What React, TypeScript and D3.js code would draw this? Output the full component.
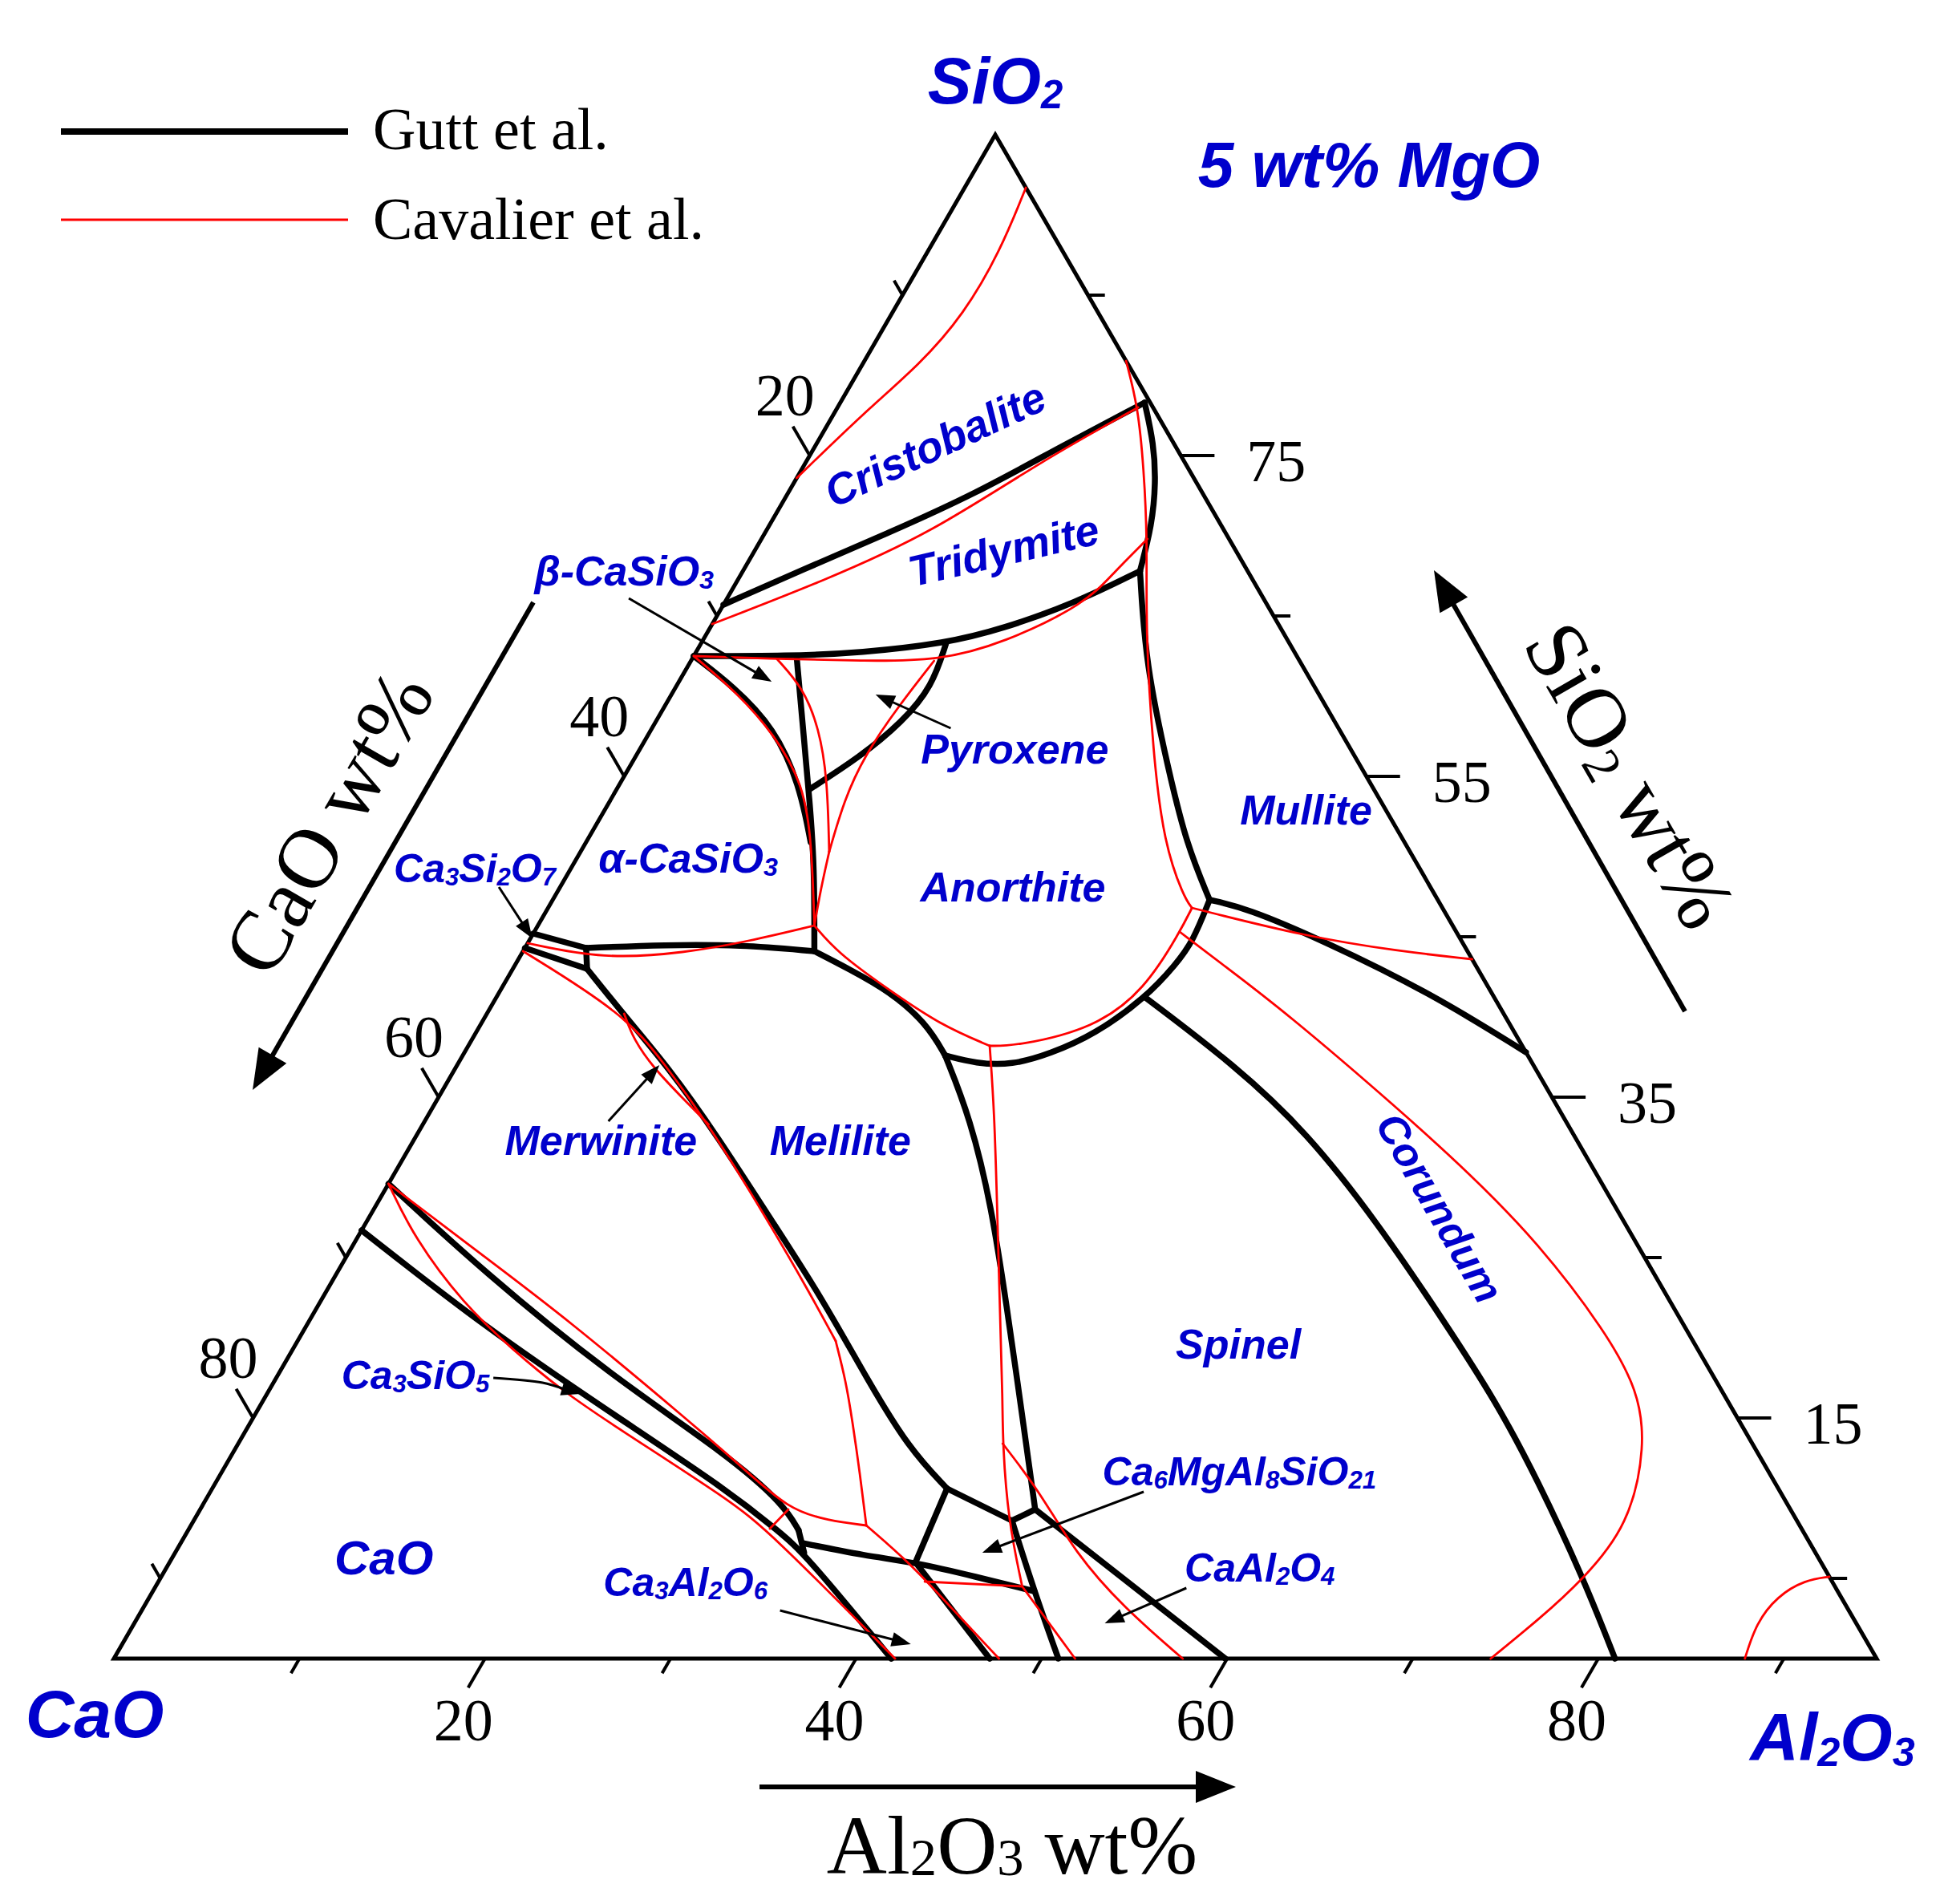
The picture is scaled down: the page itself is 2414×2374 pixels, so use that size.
import React from 'react';
import * as d3 from 'd3';

// Compositions are [Al2O3, SiO2] in wt%; CaO = 95 - Al2O3 - SiO2 (isoplethal section at 5 wt% MgO)
type Comp = [number, number];
type Part = [string, boolean?];

const TOTAL = 95;

// ---- Gutt et al. (black) ----
const gCristobaliteTridymite: Comp[] = [[0, 65.7], [3.2, 67.9], [6.7, 70.2], [10.1, 72.6], [13.3, 75.6], [16.4, 78.3]];
const gTridymiteMullite: Comp[] = [[16.4, 78.3], [18.2, 75.7], [19.5, 73.3], [20.6, 70.7], [21.4, 67.8]];
const gSilicaLower: Comp[] = [[21.4, 67.8], [18.9, 65.8], [15.8, 64.2], [13.2, 63.3], [8.9, 62.7], [5.1, 62.5], [0, 62.5]];
const gAnorthiteMullite: Comp[] = [[21.4, 67.8], [24.6, 62.0], [29.2, 55.3], [32.4, 50.8], [35.4, 47.3]];
const gMulliteCorundum: Comp[] = [[35.4, 47.3], [37.6, 46.8], [42.7, 44.8], [50.2, 41.5], [57.2, 37.8]];
const gAnorthiteSpinel: Comp[] = [[35.4, 47.3], [35.8, 44.7], [35.6, 43.3], [35.0, 41.2], [33.4, 38.9], [31.6, 37.7], [29.9, 37.0], [27.9, 37.1], [26.0, 37.6]];
const gMeliliteAnorthite: Comp[] = [[15.7, 44.1], [18.1, 43.0], [21.0, 41.6], [24.0, 39.6], [26.0, 37.6]];
const gMeliliteSpinel: Comp[] = [[26.0, 37.6], [29.3, 33.7], [33.2, 28.2], [37.3, 21.7], [41.1, 15.6], [45.0, 9.3]];
const gSpinelCorundum: Comp[] = [[35.0, 41.2], [41.9, 37.0], [47.9, 32.8], [54.6, 27.1], [61.2, 21.0], [66.5, 16.0], [71.1, 11.2], [76.7, 5.0], [80.9, 0]];
const gWollastonite: Comp[] = [[5.6, 62.4], [8.6, 57.2], [10.8, 53.4], [13.0, 49.5], [15.7, 44.1]];
const gPyroxene: Comp[] = [[13.2, 63.3], [13.8, 60.6], [13.3, 58.4], [12.1, 56.2], [10.4, 54.2]];
const gBetaAlpha: Comp[] = [[0, 62.5], [3.1, 60.6], [6.6, 58.0], [9.7, 54.5], [12.1, 50.9]];
const gAlphaMelilite: Comp[] = [[3.3, 44.3], [7.5, 44.5], [11.5, 44.5], [15.7, 44.1]];
const gRankiniteTop: Comp[] = [[0, 45.2], [3.3, 44.3]];
const gRankiniteSide: Comp[] = [[3.3, 44.3], [4.0, 43.0]];
const gRankiniteBottom: Comp[] = [[4.0, 43.0], [0, 44.3]];
const gMerwiniteMelilite: Comp[] = [[4.0, 43.0], [7.7, 39.9], [11.4, 36.9], [16.1, 32.7], [21.8, 27.3], [26.9, 22.5], [32.0, 17.3], [36.3, 13.1], [39.6, 10.6]];
const gQuatTopA: Comp[] = [[39.6, 10.6], [44.1, 8.6]];
const gQuatTopB: Comp[] = [[44.1, 8.6], [45.0, 9.3]];
const gQuatLeft: Comp[] = [[39.6, 10.6], [40.2, 6.0]];
const gCaAl2O4Spinel: Comp[] = [[45.0, 9.3], [59.9, 0]];
const gQuatRight: Comp[] = [[44.1, 8.6], [47.5, 4.2], [50.9, 0]];
const gC3ADown: Comp[] = [[40.2, 6.0], [47.2, 0]];
const gC3ATop: Comp[] = [[33.5, 7.2], [37.3, 6.4], [40.2, 6.0], [43.9, 5.1], [47.5, 4.2]];
const gC3SUpper: Comp[] = [[0, 29.6], [7.9, 24.1], [17.7, 17.8], [26.9, 12.6], [31.3, 9.6], [32.9, 8.0]];
const gC3SLink: Comp[] = [[32.9, 8.0], [33.9, 6.6]];
const gC3SLower: Comp[] = [[0, 26.7], [9.6, 20.7], [18.8, 15.5], [28.0, 10.4], [31.9, 7.9], [33.9, 6.6], [41.9, 0]];

// ---- Cavalier et al. (red) ----
const rCristobaliteTop: Comp[] = [[3.3, 91.7], [3.9, 87.7], [3.9, 83.8], [3.1, 80.7], [1.6, 77.7], [0, 73.6]];
const rCristobaliteTridymite: Comp[] = [[0, 64.5], [4.7, 67.2], [9.0, 70.2], [12.6, 74.6], [16.2, 78.0]];
const rTridymiteMullite: Comp[] = [[14.1, 80.9], [16.2, 78.0], [18.4, 74.2], [20.8, 69.8], [23.5, 64.2], [27.8, 56.4], [31.2, 50.8], [33.9, 47.5], [34.7, 46.8]];
const rSilicaLower: Comp[] = [[20.8, 69.8], [20.0, 67.6], [19.5, 65.8], [16.3, 63.3], [13.3, 62.2], [9.3, 62.2], [5.3, 62.3], [0, 62.5]];
const rBetaAlpha: Comp[] = [[0, 62.5], [3.5, 60.2], [6.8, 57.6], [9.9, 54.5], [12.1, 51.0], [14.9, 45.7]];
const rAlphaPyroxene: Comp[] = [[4.6, 62.3], [6.9, 60.5], [9.0, 58.0], [11.0, 54.9], [13.4, 50.3]];
const rPyroxeneAnorthite: Comp[] = [[13.1, 62.2], [12.6, 59.4], [12.3, 56.3], [12.6, 53.5], [13.4, 50.3]];
const rAlphaLower: Comp[] = [[13.4, 50.3], [14.1, 48.0], [14.9, 45.7]];
const rAlphaMelilite: Comp[] = [[0, 44.6], [4.6, 43.6], [8.8, 44.0], [11.8, 44.7], [14.9, 45.7]];
const rMeliliteAnorthite: Comp[] = [[14.9, 45.7], [17.0, 44.0], [20.9, 41.7], [24.8, 39.5], [28.1, 38.2]];
const rAnorthiteSpinel: Comp[] = [[28.1, 38.2], [29.6, 38.2], [33.2, 39.3], [34.7, 41.7], [34.8, 45.3], [34.7, 46.8]];
const rMulliteCorundum: Comp[] = [[34.7, 46.8], [41.8, 45.0], [47.2, 44.1], [51.4, 43.6]];
const rCorundumSpinel: Comp[] = [[34.8, 45.3], [37.9, 43.4], [43.0, 40.3], [52.2, 34.2], [58.0, 30.2], [63.7, 26.0], [70.2, 20.4], [73.8, 16.7], [75.9, 13.3], [77.5, 8.3], [76.7, 4.9], [75.6, 2.5], [74.2, 0]];
const rCorundumCorner: Comp[] = [[87.9, 0], [87.4, 2.2], [87.7, 3.9], [88.7, 4.9], [89.9, 5.1]];
const rMeliliteSpinel: Comp[] = [[28.1, 38.2], [30.4, 34.1], [33.5, 28.2], [36.9, 21.7], [39.9, 16.0], [41.2, 13.4], [43.9, 8.6], [46.7, 4.5]];
const rC3AShort: Comp[] = [[41.3, 4.8], [46.7, 4.5]];
const rC3AToBottom: Comp[] = [[46.7, 4.5], [51.8, 0]];
const rCaAl2O4: Comp[] = [[41.2, 13.4], [44.7, 10.4], [48.5, 6.6], [52.8, 3.2], [57.6, 0]];
const rC3A: Comp[] = [[36.4, 8.3], [40.0, 5.9], [43.5, 3.2], [47.7, 0]];
const rMerwiniteMeliliteUpper: Comp[] = [[0, 44.1], [7.4, 40.2], [11.0, 37.2], [15.4, 33.3], [21.4, 27.5], [26.0, 22.9], [29.0, 19.8]];
const rMerwiniteMeliliteLower: Comp[] = [[29.0, 19.8], [30.8, 17.3], [32.4, 14.8], [34.4, 11.6], [36.4, 8.3]];
const rMerwiniteLens: Comp[] = [[7.4, 40.2], [8.7, 38.6], [10.7, 36.8], [13.1, 35.0], [15.4, 33.3]];
const rC3SUpper: Comp[] = [[0, 29.6], [7.2, 25.2], [13.8, 21.2], [23.6, 14.8], [27.8, 12.0], [31.7, 9.3], [34.2, 8.6], [36.4, 8.3]];
const rC3SLink: Comp[] = [[31.7, 9.3], [31.3, 8.1]];
const rC3SLower: Comp[] = [[0, 29.6], [3.1, 26.2], [7.8, 22.1], [11.8, 19.3], [15.8, 16.7], [19.9, 14.4], [28.2, 9.9], [31.4, 7.9], [42.1, 0]];

const guttLines = [
  gCristobaliteTridymite, gTridymiteMullite, gSilicaLower, gAnorthiteMullite, gMulliteCorundum,
  gAnorthiteSpinel, gMeliliteAnorthite, gMeliliteSpinel, gSpinelCorundum, gWollastonite, gPyroxene,
  gBetaAlpha, gAlphaMelilite, gRankiniteTop, gRankiniteSide, gRankiniteBottom, gMerwiniteMelilite,
  gQuatTopA, gQuatTopB, gQuatLeft, gCaAl2O4Spinel, gQuatRight, gC3ADown, gC3ATop,
  gC3SUpper, gC3SLink, gC3SLower,
];
const cavalierLines = [
  rCristobaliteTop, rCristobaliteTridymite, rTridymiteMullite, rSilicaLower, rBetaAlpha, rAlphaPyroxene,
  rPyroxeneAnorthite, rAlphaLower, rAlphaMelilite, rMeliliteAnorthite, rAnorthiteSpinel, rMulliteCorundum,
  rCorundumSpinel, rCorundumCorner, rMeliliteSpinel, rC3AShort, rC3AToBottom, rCaAl2O4, rC3A,
  rMerwiniteMeliliteUpper, rMerwiniteMeliliteLower, rMerwiniteLens, rC3SUpper, rC3SLink, rC3SLower,
];

// ---- axes ----
const bottomTicks = [10, 20, 30, 40, 50, 60, 70, 80, 90];
const bottomLabels = [20, 40, 60, 80];
const leftTicks = [10, 20, 30, 40, 50, 60, 70, 80, 90];
const leftLabels = [20, 40, 60, 80];
const rightTicks = [5, 15, 25, 35, 45, 55, 65, 75, 85];
const rightLabels = [15, 35, 55, 75];

// ---- phase field names ----
const phaseLabels: { parts: Part[]; at: Comp; rot?: number; size?: number }[] = [
  { parts: [['Cristobalite']], at: [6.4, 75.7], rot: -25, size: 54 },
  { parts: [['Tridymite']], at: [13.4, 69.1], rot: -13, size: 54 },
  { parts: [['β-CaSiO'], ['3', true]], at: [-6.4, 67.8] },
  { parts: [['Pyroxene']], at: [20.2, 56.7] },
  { parts: [['Mullite']], at: [37.8, 52.9] },
  { parts: [['Anorthite']], at: [24.4, 48.1] },
  { parts: [['α-CaSiO'], ['3', true]], at: [6.0, 49.9] },
  { parts: [['Ca'], ['3', true], ['Si'], ['2', true], ['O'], ['7', true]], at: [-5.2, 49.3], size: 50 },
  { parts: [['Merwinite']], at: [10.1, 32.3] },
  { parts: [['Melilite']], at: [23.0, 32.3] },
  { parts: [['Corundum']], at: [57.4, 28.1], rot: 60 },
  { parts: [['Spinel']], at: [50.8, 19.6] },
  { parts: [['Ca'], ['6', true], ['MgAl'], ['8', true], ['SiO'], ['21', true]], at: [54.8, 11.7], size: 50 },
  { parts: [['Ca'], ['3', true], ['SiO'], ['5', true]], at: [7.4, 17.7], size: 50 },
  { parts: [['CaO']], at: [11.4, 6.3], size: 60 },
  { parts: [['Ca'], ['3', true], ['Al'], ['2', true], ['O'], ['6', true]], at: [28.4, 4.8], size: 50 },
  { parts: [['CaAl'], ['2', true], ['O'], ['4', true]], at: [58.9, 5.7], size: 50 },
];

const pointerArrows: Comp[][] = [
  [[-5.3, 66.1], [5.0, 60.9]],
  [[16.1, 58.0], [11.0, 60.1]],
  [[-3.3, 48.1], [0.1, 44.9]],
  [[9.9, 33.5], [10.9, 37.0]],
  [[11.7, 17.5], [14.5, 17.2], [16.9, 16.5]],
  [[50.3, 10.4], [43.5, 6.6]],
  [[55.6, 4.4], [52.3, 2.2]],
  [[34.4, 3.0], [42.5, 0.9]],
];

const SERIF = "'Liberation Serif', 'Times New Roman', serif";
const SANS = "'Liberation Sans', Arial, Helvetica, sans-serif";
const BLUE = '#0000cc';
const RED = '#ff0000';

function Rich({ parts, x, y, size, rot = 0, family, bold = false, italic = false, fill = '#000', anchor = 'middle', subScale = 0.62, subShift = 0.08 }: any) {
  let cur = 0;
  return (
    <text transform={`translate(${x},${y}) rotate(${rot})`} y={size * 0.35} textAnchor={anchor}
      fontFamily={family} fontSize={size} fontWeight={bold ? 'bold' : 'normal'}
      fontStyle={italic ? 'italic' : 'normal'} fill={fill}>
      {parts.map(([t, sub]: Part, i: number) => {
        const target = sub ? size * subShift : 0;
        const dy = target - cur;
        cur = target;
        return <tspan key={i} dy={dy} fontSize={sub ? size * subScale : size}>{t}</tspan>;
      })}
    </text>
  );
}

function Arrow({ pts, head = 24, half = 9, width = 3 }: { pts: [number, number][]; head?: number; half?: number; width?: number }) {
  const n = pts.length;
  const [x2, y2] = pts[n - 1];
  const [x1, y1] = pts[n - 2];
  const d = Math.hypot(x2 - x1, y2 - y1);
  const ux = (x2 - x1) / d, uy = (y2 - y1) / d;
  const bx = x2 - ux * head, by = y2 - uy * head;
  const shaft: [number, number][] = [...pts.slice(0, n - 1), [bx + ux * 2, by + uy * 2]];
  const path = d3.line().curve(n > 2 ? d3.curveCatmullRom : d3.curveLinear)(shaft) || '';
  return (
    <g>
      <path d={path} fill="none" stroke="#000" strokeWidth={width} />
      <polygon points={`${x2},${y2} ${bx - uy * half},${by + ux * half} ${bx + uy * half},${by - ux * half}`} fill="#000" />
    </g>
  );
}

export default function App() {
  const W = 2414, H = 2374;
  const X0 = 142, Y0 = 2068, side = 2198, tri = 1900;
  const sx = d3.scaleLinear().domain([0, TOTAL]).range([0, side]);
  const sy = d3.scaleLinear().domain([0, TOTAL]).range([0, tri]);
  const proj = ([a, s]: Comp): [number, number] => [X0 + sx(a) + sx(s) / 2, Y0 - sy(s)];
  const line = d3.line<Comp>().x((d) => proj(d)[0]).y((d) => proj(d)[1]).curve(d3.curveBasis);

  const cA = proj([0, 0]);
  const cAl = proj([TOTAL, 0]);
  const cSi = proj([0, TOTAL]);

  const ticks: JSX.Element[] = [];
  const tickLabels: JSX.Element[] = [];
  const major = 42, minor = 21;
  bottomTicks.forEach((a) => {
    const [x, y] = proj([a, 0]);
    const isMajor = bottomLabels.includes(a);
    const L = isMajor ? major : minor;
    const ex = x - 0.5 * L, ey = y + 0.866 * L;
    ticks.push(<line key={`b${a}`} x1={x} y1={y} x2={ex} y2={ey} />);
    if (isMajor) tickLabels.push(<Rich key={`bl${a}`} parts={[[String(a)]]} x={ex - 6} y={ey + 40} size={74} family={SERIF} />);
  });
  leftTicks.forEach((c) => {
    const [x, y] = proj([0, TOTAL - c]);
    const isMajor = leftLabels.includes(c);
    const L = isMajor ? major : minor;
    const ex = x - 0.5 * L, ey = y - 0.866 * L;
    ticks.push(<line key={`l${c}`} x1={x} y1={y} x2={ex} y2={ey} />);
    if (isMajor) tickLabels.push(<Rich key={`ll${c}`} parts={[[String(c)]]} x={ex - 10} y={ey - 40} size={74} family={SERIF} />);
  });
  rightTicks.forEach((s) => {
    const [x, y] = proj([TOTAL - s, s]);
    const isMajor = rightLabels.includes(s);
    const L = isMajor ? major : minor;
    ticks.push(<line key={`r${s}`} x1={x} y1={y} x2={x + L} y2={y} />);
    if (isMajor) tickLabels.push(<Rich key={`rl${s}`} parts={[[String(s)]]} x={x + L + 40} y={y + 6} size={74} family={SERIF} anchor="start" />);
  });

  return (
    <svg width={W} height={H} viewBox={`0 0 ${W} ${H}`} style={{ position: 'absolute', left: 0, top: 0, background: '#fff' }}>
      <rect width={W} height={H} fill="#fff" />

      {/* legend */}
      <line x1={76} y1={164} x2={434} y2={164} stroke="#000" strokeWidth={8} />
      <text x={465} y={186} fontFamily={SERIF} fontSize={74}>Gutt et al.</text>
      <line x1={76} y1={274} x2={434} y2={274} stroke={RED} strokeWidth={3} />
      <text x={465} y={298} fontFamily={SERIF} fontSize={74}>Cavalier et al.</text>

      <Rich parts={[['5 wt% MgO']]} x={1707} y={205} size={80} family={SANS} bold italic fill={BLUE} />

      {/* triangle */}
      <polygon points={[cA, cAl, cSi].map((p) => p.join(',')).join(' ')} fill="none" stroke="#000" strokeWidth={5} strokeLinejoin="miter" />
      <g stroke="#000" strokeWidth={4}>{ticks}</g>
      {tickLabels}

      {/* Gutt et al. */}
      <g fill="none" stroke="#000" strokeWidth={7.5} strokeLinecap="round" strokeLinejoin="round">
        {guttLines.map((pts, i) => <path key={i} d={line(pts) || ''} />)}
      </g>
      {/* Cavalier et al. */}
      <g fill="none" stroke={RED} strokeWidth={2.8} strokeLinecap="round" strokeLinejoin="round">
        {cavalierLines.map((pts, i) => <path key={i} d={line(pts) || ''} />)}
      </g>

      {/* phase names */}
      {phaseLabels.map((l, i) => {
        const [x, y] = proj(l.at);
        return <Rich key={i} parts={l.parts} x={x} y={y} rot={l.rot || 0} size={l.size || 52} family={SANS} bold italic fill={BLUE} />;
      })}
      {pointerArrows.map((pts, i) => <Arrow key={i} pts={pts.map(proj)} head={24} half={9} width={3} />)}

      {/* vertex names */}
      <Rich parts={[['SiO'], ['2', true]]} x={1241} y={100} size={82} family={SANS} bold italic fill={BLUE} subScale={0.6} />
      <Rich parts={[['CaO']]} x={118} y={2137} size={84} family={SANS} bold italic fill={BLUE} />
      <Rich parts={[['Al'], ['2', true], ['O'], ['3', true]]} x={2285} y={2166} size={84} family={SANS} bold italic fill={BLUE} subScale={0.6} />

      {/* axis titles and arrows */}
      <Arrow pts={[[947, 2228], [1541, 2228]]} head={50} half={20} width={6} />
      <Arrow pts={[[665, 751], [315, 1359]]} head={50} half={20} width={6} />
      <Arrow pts={[[2101, 1261], [1788, 711]]} head={50} half={20} width={6} />
      <Rich parts={[['Al'], ['2', true], ['O'], ['3', true], [' wt%']]} x={1262} y={2300} size={104} family={SERIF} subScale={0.64} subShift={0.02} />
      <Rich parts={[['CaO wt%']]} x={408} y={1025} rot={-60} size={106} family={SERIF} />
      <Rich parts={[['SiO'], ['2', true], [' wt%']]} x={2034} y={966} rot={60} size={106} family={SERIF} subShift={0.1} />
    </svg>
  );
}
